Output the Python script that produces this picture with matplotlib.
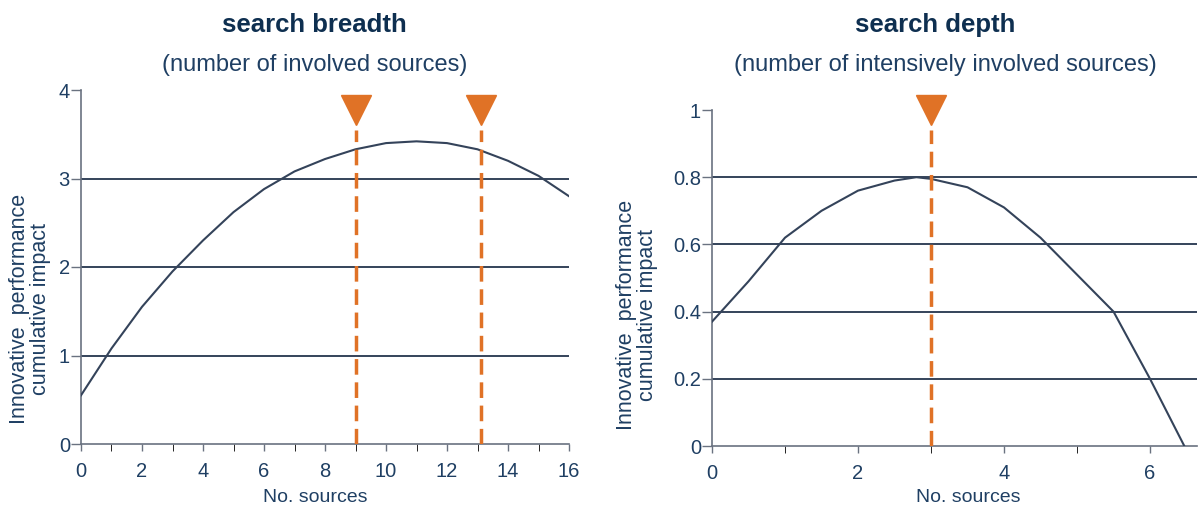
import matplotlib
matplotlib.use("Agg")
import matplotlib.pyplot as plt

plt.rcParams['font.family'] = ['Liberation Sans', 'DejaVu Sans']

# Left chart: search breadth
breadth_x = [0, 1, 2, 3, 4, 5, 6, 7, 8, 9, 10, 11, 12, 13, 14, 15, 16]
breadth_y = [0.55, 1.08, 1.55, 1.95, 2.30, 2.62, 2.88, 3.08, 3.22, 3.33, 3.40, 3.42, 3.40, 3.33, 3.20, 3.03, 2.80]
breadth_markers = [9, 13.1]
breadth_marker_y = 3.77
breadth_yticks = [0, 1, 2, 3, 4]
breadth_grid = [1, 2, 3]
breadth_xticks = [0, 2, 4, 6, 8, 10, 12, 14, 16]

# Right chart: search depth
depth_x = [0, 0.5, 1, 1.5, 2, 2.5, 2.8, 3, 3.5, 4, 4.5, 5, 5.5, 6, 6.47]
depth_y = [0.37, 0.49, 0.62, 0.70, 0.76, 0.79, 0.80, 0.795, 0.77, 0.71, 0.62, 0.51, 0.40, 0.20, 0.0]
depth_markers = [3.0]
depth_marker_y = 1.0
depth_yticks = [0, 0.2, 0.4, 0.6, 0.8, 1]
depth_ytick_labels = ['0', '0.2', '0.4', '0.6', '0.8', '1']
depth_grid = [0.2, 0.4, 0.6, 0.8]
depth_xticks = [0, 2, 4, 6]

titles = ["search breadth", "search depth"]
subtitles = ["(number of involved sources)", "(number of intensively involved sources)"]
ylabel = "Innovative  performance\ncumulative impact"
xlabel = "No. sources"

NAVY = '#34435a'
TEXT = '#1f3f63'
TITLE = '#0e2f50'
ORANGE = '#e07226'
SPINE = '#6a7280'

fig = plt.figure(figsize=(11.98, 5.07), dpi=100)

axL = fig.add_axes([81/1198, 1-444/507, (569-81)/1198, (444-90)/507])
axR = fig.add_axes([712/1198, 1-446/507, (1197-712)/1198, (446-110)/507])

def style(ax):
    for s in ['top', 'right']:
        ax.spines[s].set_visible(False)
    for s in ['left', 'bottom']:
        ax.spines[s].set_color(SPINE)
        ax.spines[s].set_linewidth(1.2)
    ax.tick_params(colors=SPINE, labelcolor=TEXT, labelsize=14.5, width=1.0)
    ax.tick_params(axis='x', which='both', length=5, pad=8)
    ax.tick_params(axis='y', length=7, pad=1)

# Left
for g in breadth_grid:
    axL.axhline(g, color=NAVY, lw=1.4, zorder=1)
axL.plot(breadth_x, breadth_y, color=NAVY, lw=1.5, zorder=3)
for m in breadth_markers:
    axL.plot([m, m], [0, breadth_marker_y - 0.22], color=ORANGE, lw=2.5, ls=(0, (4.5, 2.2)), zorder=4)
    axL.plot([m], [breadth_marker_y], marker='v', ms=22, color=ORANGE, mec=ORANGE, clip_on=False, zorder=5)
axL.set_xlim(0, 16)
axL.set_ylim(0, 4)
axL.set_xticks(breadth_xticks)
axL.set_xticks(range(0, 17), minor=True)
axL.set_yticks(breadth_yticks)
style(axL)
axL.set_xlabel(xlabel, color=TEXT, fontsize=14)
axL.xaxis.set_label_coords((315-81)/488, -(489-444)/354)
axL.set_ylabel(ylabel, color=TEXT, fontsize=15.5, linespacing=1.0)
axL.yaxis.set_label_coords((51-81)/488, (444-309)/354)

# Right
for g in depth_grid:
    axR.axhline(g, color=NAVY, lw=1.4, zorder=1)
axR.plot(depth_x, depth_y, color=NAVY, lw=1.5, zorder=3)
for m in depth_markers:
    axR.plot([m, m], [0, depth_marker_y - 0.06], color=ORANGE, lw=2.5, ls=(0, (4.5, 2.2)), zorder=4)
    axR.plot([m], [depth_marker_y], marker='v', ms=22, color=ORANGE, mec=ORANGE, clip_on=False, zorder=5)
axR.set_xlim(0, (1197-712)/73)
axR.set_ylim(0, 1)
axR.set_xticks(depth_xticks)
axR.set_xticks(range(0, 7), minor=True)
axR.set_yticks(depth_yticks)
axR.set_yticklabels(depth_ytick_labels)
style(axR)
axR.set_xlabel(xlabel, color=TEXT, fontsize=14)
axR.xaxis.set_label_coords((968-712)/485, -(489-446)/336)
axR.set_ylabel(ylabel, color=TEXT, fontsize=15.5, linespacing=1.0)
axR.yaxis.set_label_coords((658-712)/485, (446-315)/336)

# Titles
fig.text(314/1198, 1-25/507, titles[0], ha='center', va='center', fontsize=18.5, fontweight='bold', color=TITLE)
fig.text(315/1198, 1-65/507, subtitles[0], ha='center', va='center', fontsize=17, color=TEXT)
fig.text(935/1198, 1-25/507, titles[1], ha='center', va='center', fontsize=18.5, fontweight='bold', color=TITLE)
fig.text(945/1198, 1-65/507, subtitles[1], ha='center', va='center', fontsize=17, color=TEXT)

fig.savefig('out.png', dpi=100)
